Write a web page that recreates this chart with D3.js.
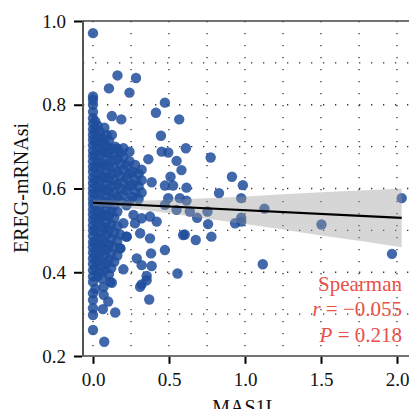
<!DOCTYPE html>
<html>
<head>
<meta charset="utf-8">
<script src="https://cdn.jsdelivr.net/npm/d3@7"></script>
<style>
  body { margin: 0; background: #fff; }
  text { font-family: "Liberation Serif", "DejaVu Serif", serif; }
</style>
</head>
<body>
<div id="scatter"></div>
<script>
// Samples with MAS1L = 0 (EREG-mRNAsi values)
var zeroExprY = [0.971, 0.82, 0.812, 0.8, 0.783, 0.768, 0.755, 0.741, 0.728, 0.716, 0.703,
  0.69, 0.678, 0.665, 0.652, 0.64, 0.626, 0.613, 0.6, 0.588, 0.575, 0.563, 0.55, 0.538,
  0.525, 0.512, 0.5, 0.486, 0.472, 0.46, 0.447, 0.433, 0.42, 0.405, 0.39, 0.377, 0.35,
  0.334, 0.314, 0.298, 0.262];

// Dense cluster of low-expression samples [MAS1L, mRNAsi]
var lowExprPoints = [
  [0.015, 0.36], [0.015, 0.41], [0.015, 0.44], [0.015, 0.47], [0.015, 0.5], [0.015, 0.53],
  [0.015, 0.56], [0.015, 0.59], [0.015, 0.62], [0.015, 0.65], [0.015, 0.68], [0.015, 0.71],
  [0.015, 0.74], [0.015, 0.76],
  [0.03, 0.39], [0.03, 0.425], [0.03, 0.455], [0.03, 0.485], [0.03, 0.52], [0.03, 0.545],
  [0.03, 0.575], [0.03, 0.605], [0.03, 0.635], [0.03, 0.665], [0.03, 0.695], [0.03, 0.725], [0.03, 0.75],
  [0.045, 0.4], [0.045, 0.43], [0.045, 0.465], [0.045, 0.495], [0.045, 0.53], [0.045, 0.56],
  [0.045, 0.59], [0.045, 0.62], [0.045, 0.65], [0.045, 0.68], [0.045, 0.71], [0.045, 0.735],
  [0.06, 0.385], [0.06, 0.415], [0.06, 0.45], [0.06, 0.48], [0.06, 0.51], [0.06, 0.54],
  [0.06, 0.57], [0.06, 0.6], [0.06, 0.63], [0.06, 0.66], [0.06, 0.69], [0.06, 0.72],
  [0.075, 0.405], [0.075, 0.44], [0.075, 0.47], [0.075, 0.505], [0.075, 0.535], [0.075, 0.565],
  [0.075, 0.595], [0.075, 0.625], [0.075, 0.655], [0.075, 0.685], [0.075, 0.71], [0.075, 0.745],
  [0.09, 0.42], [0.09, 0.455], [0.09, 0.49], [0.09, 0.52], [0.09, 0.55], [0.09, 0.58],
  [0.09, 0.61], [0.09, 0.64], [0.09, 0.67], [0.09, 0.7], [0.09, 0.728],
  [0.105, 0.395], [0.105, 0.43], [0.105, 0.465], [0.105, 0.5], [0.105, 0.535], [0.105, 0.565],
  [0.105, 0.595], [0.105, 0.625], [0.105, 0.655], [0.105, 0.685], [0.105, 0.715],
  [0.12, 0.41], [0.12, 0.445], [0.12, 0.48], [0.12, 0.515], [0.12, 0.545], [0.12, 0.575],
  [0.12, 0.605], [0.12, 0.635], [0.12, 0.665], [0.12, 0.695], [0.124, 0.728],
  [0.14, 0.425], [0.14, 0.46], [0.14, 0.495], [0.14, 0.53], [0.14, 0.56], [0.14, 0.59],
  [0.14, 0.62], [0.14, 0.65], [0.14, 0.68], [0.146, 0.7],
  [0.16, 0.44], [0.16, 0.475], [0.16, 0.51], [0.16, 0.545], [0.16, 0.58], [0.16, 0.61],
  [0.16, 0.64], [0.16, 0.67], [0.16, 0.695],
  [0.18, 0.457], [0.18, 0.49], [0.18, 0.57], [0.18, 0.6], [0.18, 0.63], [0.18, 0.66], [0.18, 0.685],
  [0.2, 0.407], [0.2, 0.517], [0.2, 0.585], [0.2, 0.615], [0.2, 0.645], [0.2, 0.675], [0.2, 0.696],
  [0.22, 0.485], [0.22, 0.56], [0.22, 0.595], [0.22, 0.625], [0.22, 0.655],
  [0.24, 0.57], [0.24, 0.605], [0.24, 0.635], [0.24, 0.665], [0.24, 0.688],
  [0.26, 0.58], [0.26, 0.61], [0.26, 0.64],
  [0.28, 0.59], [0.28, 0.62], [0.277, 0.656],
  [0.3, 0.575], [0.3, 0.605], [0.3, 0.635],
  [0.32, 0.59], [0.32, 0.62], [0.32, 0.645]
];

// Scattered samples outside the dense cluster
var sparsePoints = [
  [0.161, 0.87], [0.283, 0.864], [0.105, 0.839], [0.24, 0.829], [0.473, 0.805], [0.414, 0.781],
  [0.567, 0.765], [0.124, 0.773], [0.186, 0.765], [0.447, 0.726], [0.611, 0.696], [0.452, 0.688],
  [0.495, 0.686], [0.364, 0.67], [0.55, 0.666], [0.51, 0.628], [0.582, 0.644], [0.386, 0.615],
  [0.473, 0.607], [0.527, 0.607], [0.615, 0.602],
  [0.266, 0.537], [0.32, 0.529], [0.375, 0.533], [0.419, 0.521], [0.277, 0.517], [0.222, 0.485],
  [0.31, 0.493], [0.375, 0.481], [0.179, 0.457], [0.382, 0.445], [0.473, 0.453], [0.593, 0.489],
  [0.288, 0.433], [0.386, 0.415], [0.32, 0.417], [0.353, 0.391], [0.32, 0.371], [0.556, 0.397],
  [0.113, 0.377], [0.495, 0.577], [0.571, 0.577], [0.473, 0.561], [0.55, 0.549], [0.615, 0.571],
  [0.124, 0.375], [0.07, 0.365], [0.07, 0.346], [0.1, 0.33], [0.065, 0.312], [0.146, 0.304],
  [0.074, 0.234], [0.31, 0.365], [0.37, 0.335], [0.353, 0.381],
  [0.774, 0.674], [0.914, 0.628], [0.986, 0.608], [0.829, 0.589], [0.975, 0.577], [1.128, 0.552],
  [0.637, 0.545], [0.753, 0.545], [0.685, 0.53], [0.757, 0.515], [0.935, 0.517], [0.975, 0.53],
  [0.975, 0.521], [0.604, 0.49], [0.676, 0.477], [0.779, 0.485], [1.117, 0.419],
  [1.503, 0.514], [2.031, 0.577], [1.967, 0.444]
];

// Linear fit and its confidence band
var fitX = [0, 2.031];
var fitY = [0.566, 0.530];
var bandX = [0, 0.25, 0.5, 0.75, 1.0, 1.25, 1.5, 1.75, 2.031];
var bandLo = [0.558, 0.553, 0.541, 0.528, 0.515, 0.502, 0.488, 0.475, 0.460];
var bandHi = [0.574, 0.570, 0.573, 0.577, 0.581, 0.586, 0.591, 0.595, 0.600];

var xTicks = [0, 0.5, 1.0, 1.5, 2.0];
var yTicks = [0.2, 0.4, 0.6, 0.8, 1.0];
var xGrid = [0, 0.25, 0.5, 0.75, 1.0, 1.25, 1.5, 1.75, 2.0];
var yGrid = [0.3, 0.4, 0.5, 0.6, 0.7, 0.8, 0.9];
var statTitle = "Spearman";
var statR = "−0.055";
var statP = "0.218";

// SVG area
var svgWidth = 409;
var svgHeight = 409;
var panel = { left: 83, right: 409, top: 21, bottom: 356 };

var svg = d3.select("#scatter")
  .append("svg")
  .attr("width", svgWidth)
  .attr("height", svgHeight);

svg.append("rect")
  .attr("width", svgWidth)
  .attr("height", svgHeight)
  .attr("fill", "#fff");

svg.append("clipPath")
  .attr("id", "clip")
  .append("rect")
  .attr("x", panel.left)
  .attr("y", panel.top)
  .attr("width", panel.right - panel.left)
  .attr("height", panel.bottom - panel.top);

var xScale = d3.scaleLinear().domain([0, 2]).range([93, 397]);
var yScale = d3.scaleLinear().domain([0.2, 1.0]).range([356, 21]);

var plot = svg.append("g").attr("clip-path", "url(#clip)");

// Dotted grid
plot.append("g").selectAll("line")
  .data(yGrid)
  .join("line")
  .attr("x1", panel.left)
  .attr("x2", panel.right)
  .attr("y1", d => yScale(d))
  .attr("y2", d => yScale(d))
  .attr("stroke", "#333")
  .attr("stroke-width", 1.3)
  .attr("stroke-dasharray", "1.3,10.7");

plot.append("g").selectAll("line")
  .data(xGrid)
  .join("line")
  .attr("x1", d => xScale(d))
  .attr("x2", d => xScale(d))
  .attr("y1", panel.top)
  .attr("y2", panel.bottom)
  .attr("stroke", "#333")
  .attr("stroke-width", 1.3)
  .attr("stroke-dasharray", "1.3,10.7");

// Points
var allPoints = zeroExprY.map(y => [0, y]).concat(lowExprPoints, sparsePoints);

plot.append("g").selectAll("circle")
  .data(allPoints)
  .join("circle")
  .attr("cx", d => xScale(d[0]))
  .attr("cy", d => yScale(d[1]))
  .attr("r", 5.2)
  .attr("fill", "#1f4e9c")
  .attr("fill-opacity", 0.85);

// Confidence band
var band = d3.area()
  .x((d, i) => xScale(bandX[i]))
  .y0((d, i) => yScale(bandLo[i]))
  .y1((d, i) => yScale(bandHi[i]));

plot.append("path")
  .datum(bandX)
  .attr("d", band)
  .attr("fill", "#999")
  .attr("fill-opacity", 0.4);

// Fit line
plot.append("path")
  .datum(fitX.map((x, i) => [x, fitY[i]]))
  .attr("d", d3.line().x(d => xScale(d[0])).y(d => yScale(d[1])))
  .attr("fill", "none")
  .attr("stroke", "#000")
  .attr("stroke-width", 2.2);

// Panel border
svg.append("line")
  .attr("x1", panel.left).attr("x2", panel.right)
  .attr("y1", panel.top).attr("y2", panel.top)
  .attr("stroke", "#444").attr("stroke-width", 1.6);
svg.append("line")
  .attr("x1", panel.left).attr("x2", panel.right)
  .attr("y1", panel.bottom).attr("y2", panel.bottom)
  .attr("stroke", "#444").attr("stroke-width", 1.6);
svg.append("line")
  .attr("x1", panel.left).attr("x2", panel.left)
  .attr("y1", panel.top - 0.8).attr("y2", panel.bottom + 0.8)
  .attr("stroke", "#555").attr("stroke-width", 2);

// Axes
var leftAxis = d3.axisLeft(yScale)
  .tickValues(yTicks)
  .tickFormat(d3.format(".1f"))
  .tickSize(8)
  .tickPadding(8);

var bottomAxis = d3.axisBottom(xScale)
  .tickValues(xTicks)
  .tickFormat(d3.format(".1f"))
  .tickSize(7)
  .tickPadding(8.5);

var yAxisG = svg.append("g")
  .attr("transform", `translate(${panel.left - 1}, 0)`)
  .call(leftAxis);

var xAxisG = svg.append("g")
  .attr("transform", `translate(0, ${panel.bottom + 0.8})`)
  .call(bottomAxis);

[yAxisG, xAxisG].forEach(g => {
  g.select(".domain").remove();
  g.selectAll(".tick line").attr("stroke", "#000").attr("stroke-width", 2);
  g.selectAll(".tick text")
    .attr("fill", "#111")
    .attr("font-size", "19px")
    .attr("font-family", "Liberation Serif, serif");
});

// Axis labels
svg.append("text")
  .attr("transform", "rotate(-90)")
  .attr("x", -188)
  .attr("y", 28)
  .attr("text-anchor", "middle")
  .attr("font-size", "20px")
  .attr("fill", "#111")
  .text("EREG-mRNAsi");

// x label sits partly below the frame, as in the source image
svg.append("text")
  .attr("x", 245)
  .attr("y", 414)
  .attr("text-anchor", "middle")
  .attr("font-size", "20px")
  .attr("fill", "#111")
  .text("MAS1L");

// Correlation annotation
var note = svg.append("g")
  .attr("fill", "#e8504a")
  .attr("font-size", "21px")
  .attr("text-anchor", "end");

note.append("text")
  .attr("x", 402)
  .attr("y", 290.5)
  .text(statTitle);

var rText = note.append("text").attr("x", 402).attr("y", 316);
rText.append("tspan").attr("font-style", "italic").text("r");
rText.append("tspan").text(" = " + statR);

var pText = note.append("text").attr("x", 402).attr("y", 341.5);
pText.append("tspan").attr("font-style", "italic").text("P");
pText.append("tspan").text(" = " + statP);
</script>
</body>
</html>
